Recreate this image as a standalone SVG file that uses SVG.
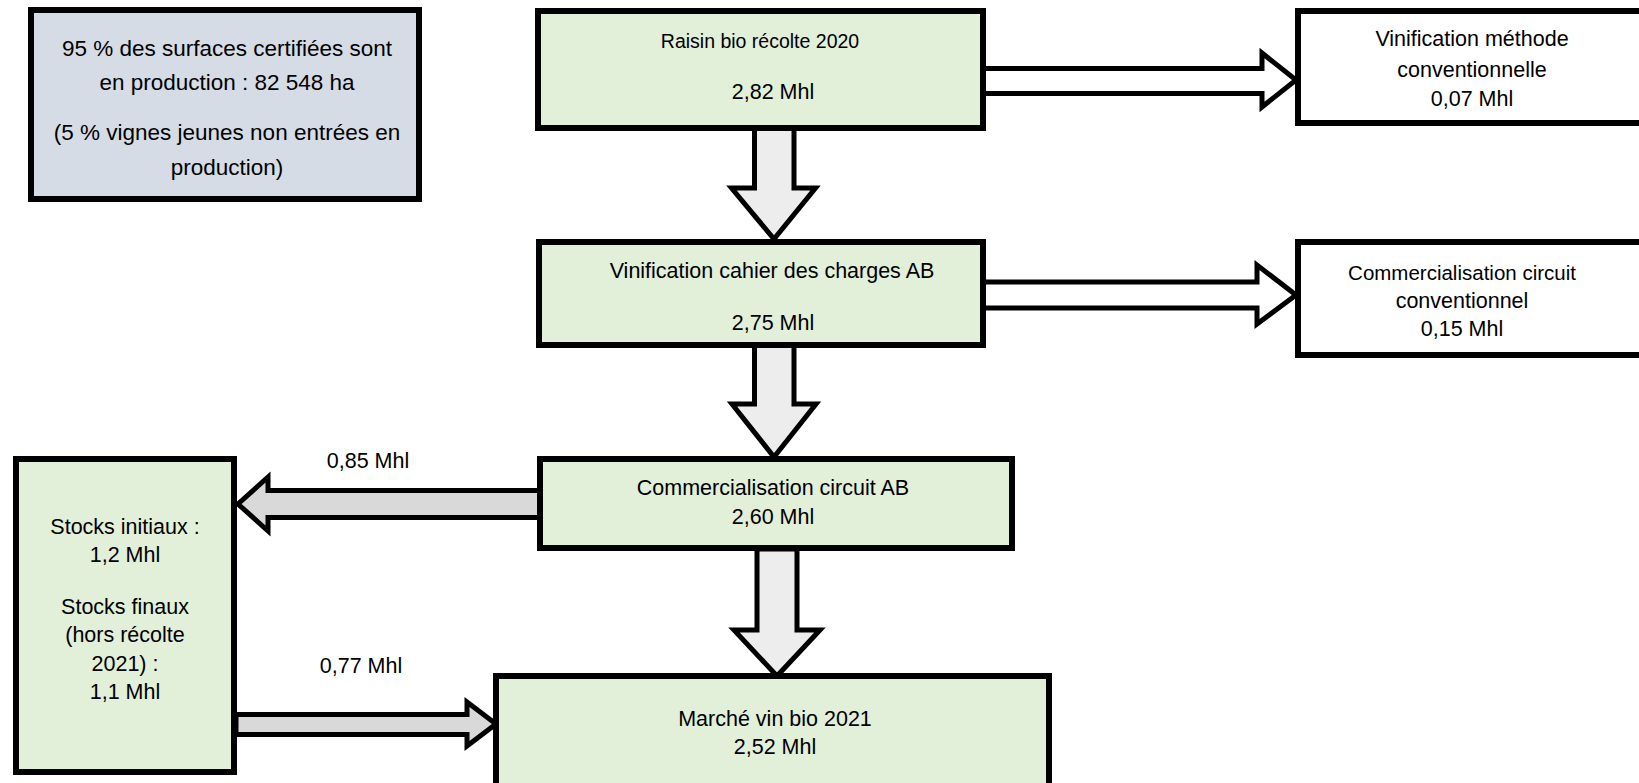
<svg xmlns="http://www.w3.org/2000/svg" width="1639" height="783" viewBox="0 0 1639 783">
<style>
.box{stroke:#000;stroke-width:6}
.g{fill:#e2efd9}
.w{fill:#fff}
.b{fill:#d6dce5}
.arr{stroke:#000;stroke-width:5;stroke-linejoin:miter}
.t{font-family:"Liberation Sans",Arial,sans-serif;font-size:21.5px;fill:#000;text-anchor:middle}
.big{font-size:22.5px}
</style>
<g id="connectors">
<polygon class="arr" fill="#fff" points="983,68.5 1262,68.5 1262,53 1296,80 1262,107 1262,93.5 983,93.5"/>
<polygon class="arr" fill="#ededed" points="754.5,128 754.5,188 731.5,188 774,239 815.5,188 794,188 794,128"/>
<polygon class="arr" fill="#fff" points="983,282 1257,282 1257,265 1296,295 1257,324 1257,308 983,308"/>
<polygon class="arr" fill="#ededed" points="754.5,345 754.5,404 732,404 774,457 816,404 794,404 794,345"/>
<polygon class="arr" fill="#d9d9d9" points="540,490.5 268,490.5 268,477 238,504 268,531 268,517.5 540,517.5"/>
<polygon class="arr" fill="#ededed" points="757,549 757,630 734,630 777,676 820,630 797,630 797,549"/>
<polygon class="arr" fill="#d9d9d9" points="236,714.5 467,714.5 467,702 496,724 467,746 467,734.5 236,734.5"/>
<text class="t" x="368" y="468">0,85 Mhl</text>
<text class="t" x="361" y="673">0,77 Mhl</text>
</g>
<g id="surfaces">
<rect class="box b" x="31" y="10" width="388" height="189"/>
<text class="t big" x="227" y="55.5">95 % des surfaces certifiées sont</text>
<text class="t big" x="227" y="89.5">en production : 82 548 ha</text>
<text class="t big" x="227" y="139.5">(5 % vignes jeunes non entrées en</text>
<text class="t big" x="227" y="174.5">production)</text>
</g>
<g id="raisin">
<rect class="box g" x="538" y="11" width="445" height="117"/>
<text class="t" x="760" y="47.5" style="font-size:19.5px">Raisin bio récolte 2020</text>
<text class="t" x="773" y="98.5">2,82 Mhl</text>
</g>
<g id="vinif-conv">
<rect class="box w" x="1298" y="11" width="400" height="112"/>
<text class="t" x="1472" y="45.5">Vinification méthode</text>
<text class="t" x="1472" y="76.5">conventionnelle</text>
<text class="t" x="1472" y="105.5">0,07 Mhl</text>
</g>
<g id="vinif-ab">
<rect class="box g" x="539" y="242" width="444" height="103"/>
<text class="t" x="772" y="277.5">Vinification cahier des charges AB</text>
<text class="t" x="773" y="329.5">2,75 Mhl</text>
</g>
<g id="comm-conv">
<rect class="box w" x="1298" y="242" width="400" height="113"/>
<text class="t" x="1462" y="279.5" style="font-size:20.5px">Commercialisation circuit</text>
<text class="t" x="1462" y="307.5">conventionnel</text>
<text class="t" x="1462" y="335.5">0,15 Mhl</text>
</g>
<g id="comm-ab">
<rect class="box g" x="540" y="459" width="472" height="89"/>
<text class="t" x="773" y="494.5">Commercialisation circuit AB</text>
<text class="t" x="773" y="523.5">2,60 Mhl</text>
</g>
<g id="stocks">
<rect class="box g" x="16" y="459" width="218" height="313"/>
<text class="t" x="125" y="533.5">Stocks initiaux :</text>
<text class="t" x="125" y="561.5">1,2 Mhl</text>
<text class="t" x="125" y="614">Stocks finaux</text>
<text class="t" x="125" y="642">(hors récolte</text>
<text class="t" x="125" y="671">2021) :</text>
<text class="t" x="125" y="699">1,1 Mhl</text>
</g>
<g id="marche">
<rect class="box g" x="496" y="676" width="553" height="120"/>
<text class="t" x="775" y="725.5">Marché vin bio 2021</text>
<text class="t" x="775" y="753.5">2,52 Mhl</text>
</g>
</svg>
